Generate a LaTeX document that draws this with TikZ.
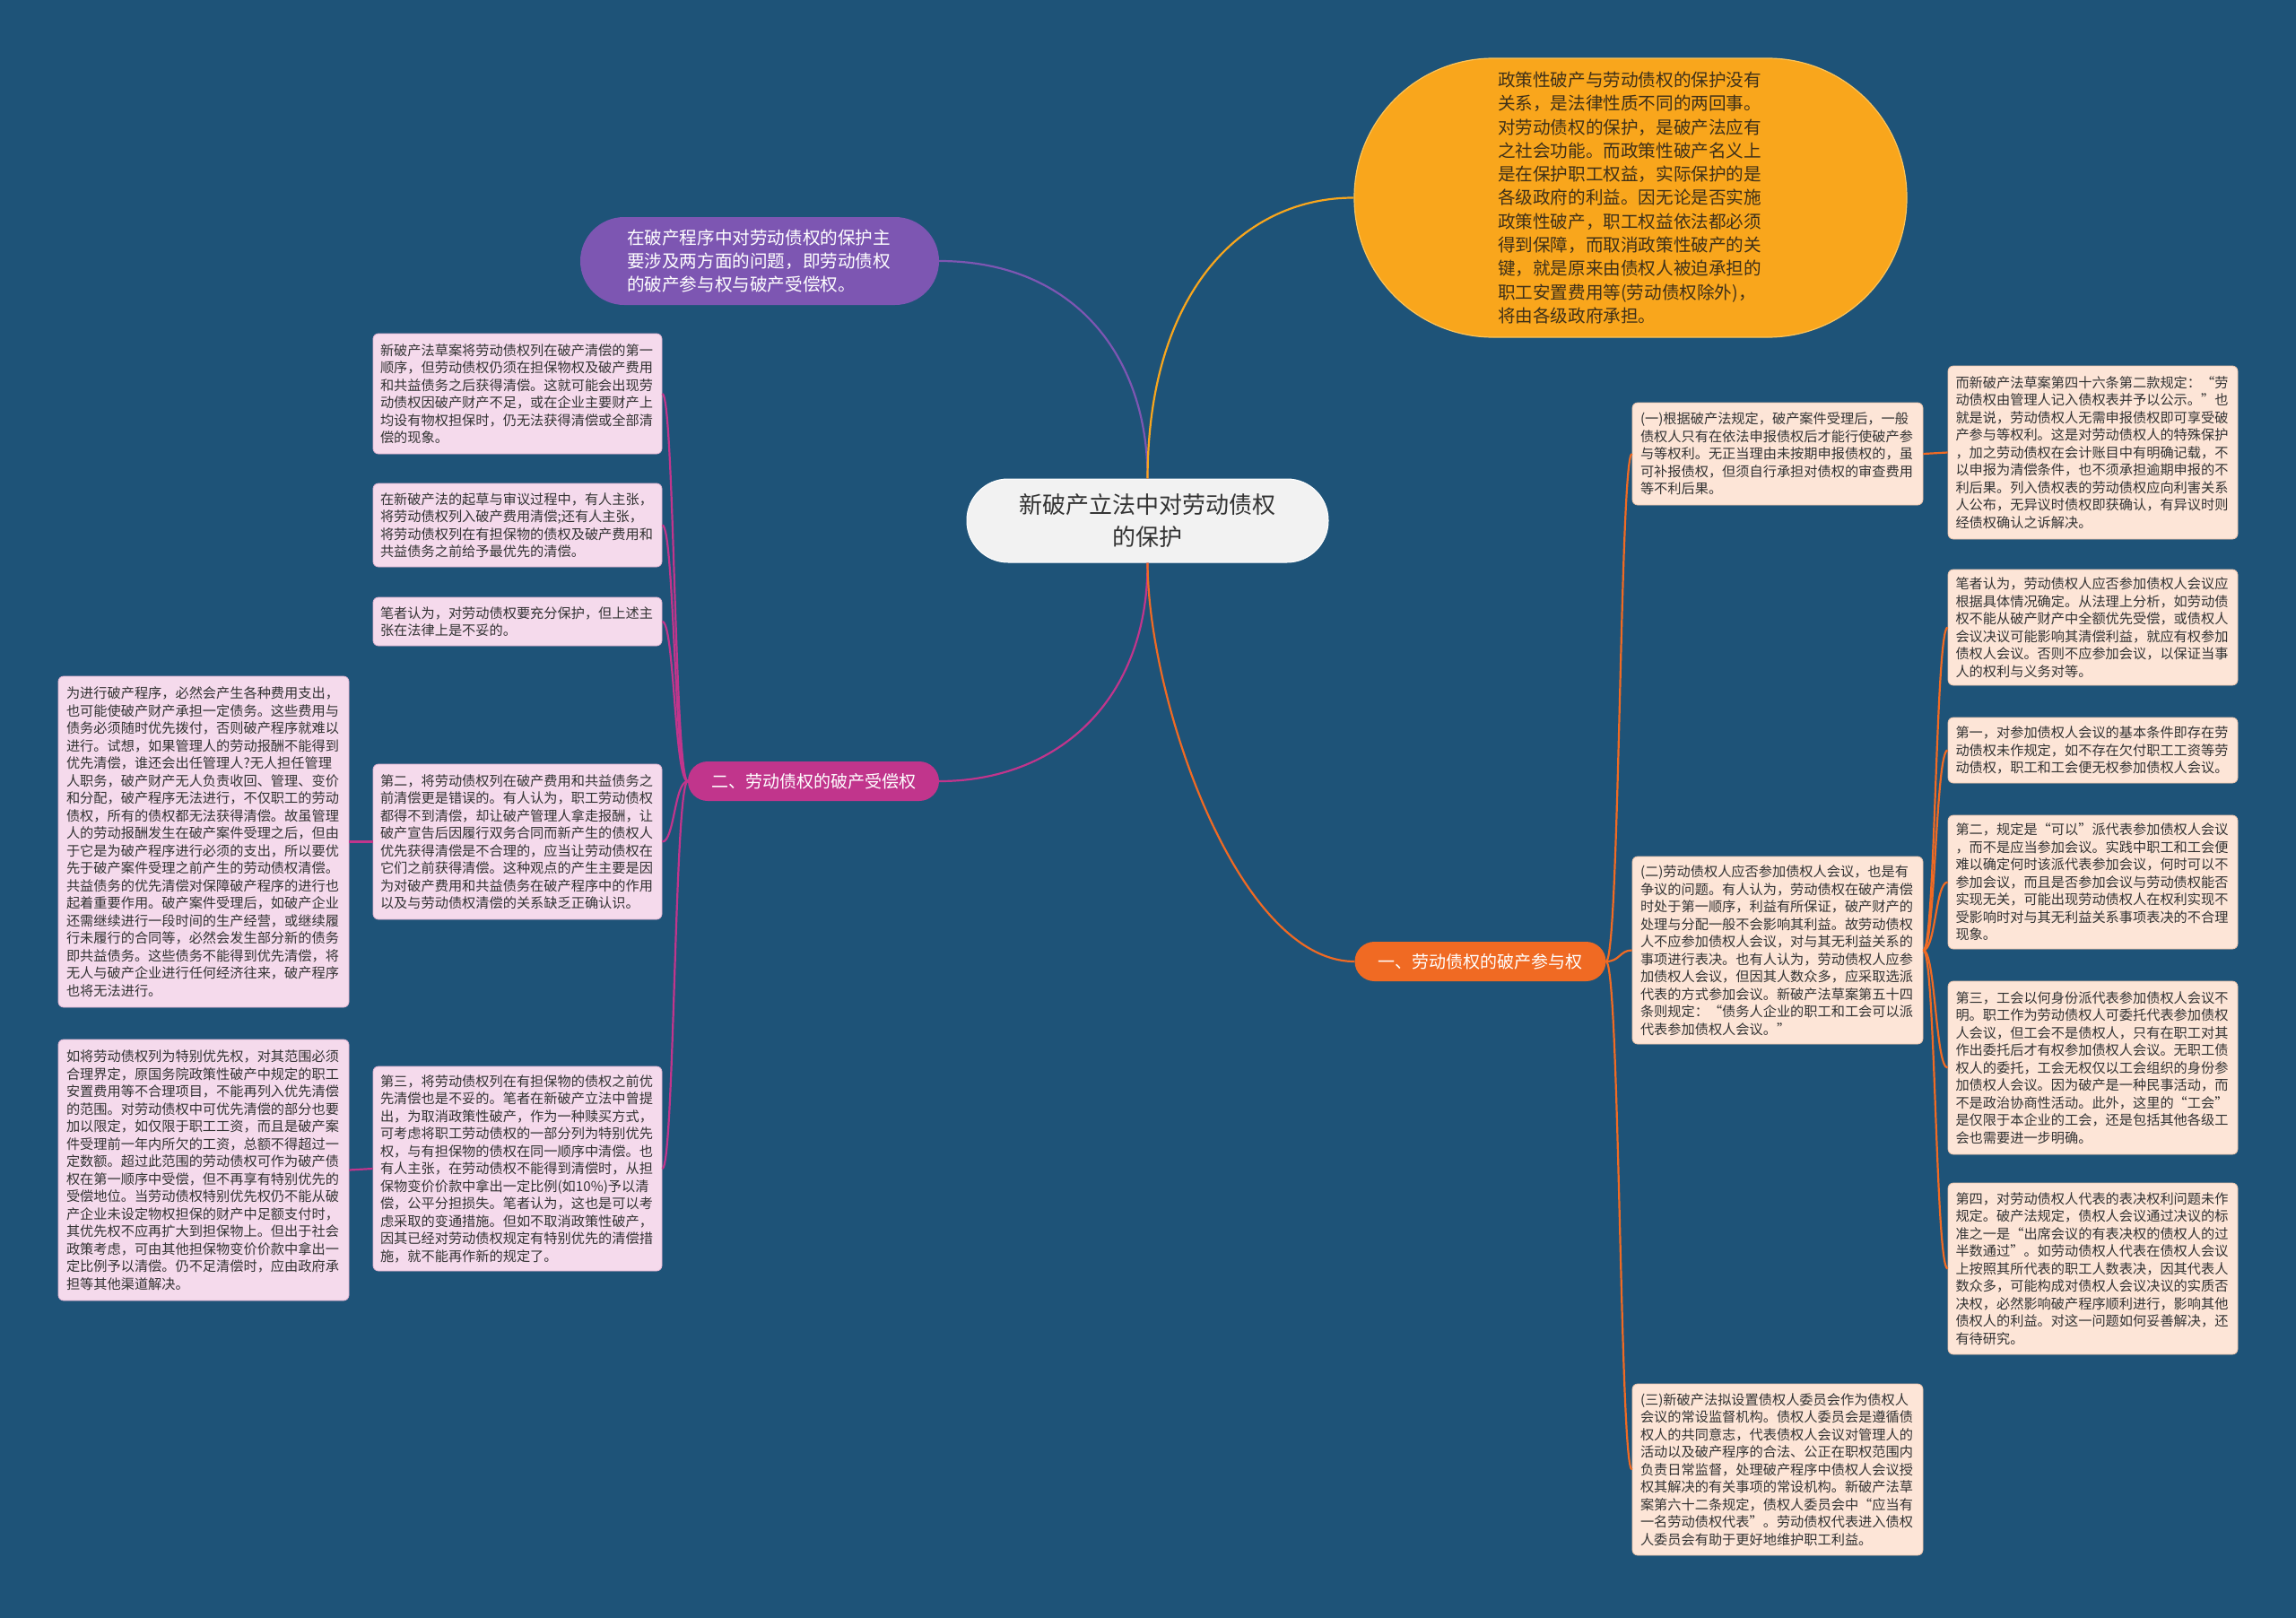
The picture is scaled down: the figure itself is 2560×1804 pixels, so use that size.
\documentclass[tikz,border=0pt]{standalone}
\usepackage{fontspec}
\setmainfont{Noto Sans CJK SC}
\definecolor{bg}{RGB}{30,83,120}
\definecolor{topor}{RGB}{249,166,28}
\definecolor{toporedge}{RGB}{252,196,90}
\definecolor{purp}{RGB}{125,86,178}
\definecolor{mag}{RGB}{193,53,140}
\definecolor{ored}{RGB}{240,106,35}
\definecolor{pinkbox}{RGB}{245,218,236}
\definecolor{pinkedge}{RGB}{226,180,210}
\definecolor{peachbox}{RGB}{253,229,215}
\definecolor{peachedge}{RGB}{236,196,172}
\definecolor{centfill}{RGB}{242,242,242}
\definecolor{txt}{RGB}{51,51,51}
\definecolor{toptxt}{RGB}{62,48,25}
\tikzset{
  leafbase/.style={line width=0.8pt, rounded corners=6pt, text=txt,
    font=\fontsize{15.2}{19.5}\selectfont, text width=306pt, inner xsep=8pt,
    inner ysep=0pt, align=left, minimum width=322pt},
  leafL/.style={leafbase, draw=pinkedge, fill=pinkbox},
  leafR/.style={leafbase, draw=peachedge, fill=peachbox},
  linkL/.style={draw=mag, line width=2.2pt},
  linkR/.style={draw=ored, line width=2.2pt},
  branch/.style={rounded corners=22pt, minimum height=44pt, minimum width=280pt,
    text=white, font=\fontsize{19}{24}\selectfont, inner sep=0pt, align=center}
}
\begin{document}
\begin{tikzpicture}[x=1pt,y=-1pt]
\fill[bg] (0,0) rectangle (2560,1804);

% central node
\node[fill=centfill, draw=white, line width=1pt, rounded corners=46pt, minimum width=403pt, minimum height=93pt,
  text=txt, font=\fontsize{26}{36}\selectfont, align=center, inner sep=0pt] (C) at (1279.5,580.5)
  {新破产立法中对劳动债权\\的保护};

% top orange
\node[fill=topor, draw=toporedge, line width=1.2pt, rounded corners=155pt, minimum width=616pt, minimum height=311pt,
  text=toptxt, font=\fontsize{19.6}{26.3}\selectfont, text width=296pt, align=left, inner sep=0pt] (O) at (1818,220.5)
  {政策性破产与劳动债权的保护没有\\关系，是法律性质不同的两回事。\\对劳动债权的保护，是破产法应有\\之社会功能。而政策性破产名义上\\是在保护职工权益，实际保护的是\\各级政府的利益。因无论是否实施\\政策性破产，职工权益依法都必须\\得到保障，而取消政策性破产的关\\键，就是原来由债权人被迫承担的\\职工安置费用等(劳动债权除外)，\\将由各级政府承担。};

% purple
\node[fill=purp, rounded corners=49pt, minimum width=400pt, minimum height=98pt,
  text=white, font=\fontsize{19.6}{26}\selectfont, text width=296pt, align=left, inner sep=0pt] (P) at (847,291)
  {在破产程序中对劳动债权的保护主\\要涉及两方面的问题，即劳动债权\\的破产参与权与破产受偿权。};

% branch nodes
\node[branch, fill=mag] (B2) at (907,871) {二、劳动债权的破产受偿权};
\node[branch, fill=ored] (B1) at (1650.5,1072) {一、劳动债权的破产参与权};

% left leaves
\node[leafL, minimum height=134pt] (L1) at (577,439)
  {新破产法草案将劳动债权列在破产清偿的第一\\顺序，但劳动债权仍须在担保物权及破产费用\\和共益债务之后获得清偿。这就可能会出现劳\\动债权因破产财产不足，或在企业主要财产上\\均设有物权担保时，仍无法获得清偿或全部清\\偿的现象。};
\node[leafL, minimum height=93pt] (L2) at (577,585.5)
  {在新破产法的起草与审议过程中，有人主张，\\将劳动债权列入破产费用清偿;还有人主张，\\将劳动债权列在有担保物的债权及破产费用和\\共益债务之前给予最优先的清偿。};
\node[leafL, minimum height=54pt] (L3) at (577,693)
  {笔者认为，对劳动债权要充分保护，但上述主\\张在法律上是不妥的。};
\node[leafL, minimum height=173pt] (L4) at (577,938.5)
  {第二，将劳动债权列在破产费用和共益债务之\\前清偿更是错误的。有人认为，职工劳动债权\\都得不到清偿，却让破产管理人拿走报酬，让\\破产宣告后因履行双务合同而新产生的债权人\\优先获得清偿是不合理的，应当让劳动债权在\\它们之前获得清偿。这种观点的产生主要是因\\为对破产费用和共益债务在破产程序中的作用\\以及与劳动债权清偿的关系缺乏正确认识。};
\node[leafL, minimum height=228pt] (L5) at (577,1303)
  {第三，将劳动债权列在有担保物的债权之前优\\先清偿也是不妥的。笔者在新破产立法中曾提\\出，为取消政策性破产，作为一种赎买方式，\\可考虑将职工劳动债权的一部分列为特别优先\\权，与有担保物的债权在同一顺序中清偿。也\\有人主张，在劳动债权不能得到清偿时，从担\\保物变价价款中拿出一定比例(如10\%)予以清\\偿，公平分担损失。笔者认为，这也是可以考\\虑采取的变通措施。但如不取消政策性破产，\\因其已经对劳动债权规定有特别优先的清偿措\\施，就不能再作新的规定了。};
\node[leafL, minimum height=369pt, minimum width=324pt] (LL1) at (227,938.5)
  {为进行破产程序，必然会产生各种费用支出，\\也可能使破产财产承担一定债务。这些费用与\\债务必须随时优先拨付，否则破产程序就难以\\进行。试想，如果管理人的劳动报酬不能得到\\优先清偿，谁还会出任管理人?无人担任管理\\人职务，破产财产无人负责收回、管理、变价\\和分配，破产程序无法进行，不仅职工的劳动\\债权，所有的债权都无法获得清偿。故虽管理\\人的劳动报酬发生在破产案件受理之后，但由\\于它是为破产程序进行必须的支出，所以要优\\先于破产案件受理之前产生的劳动债权清偿。\\共益债务的优先清偿对保障破产程序的进行也\\起着重要作用。破产案件受理后，如破产企业\\还需继续进行一段时间的生产经营，或继续履\\行未履行的合同等，必然会发生部分新的债务\\即共益债务。这些债务不能得到优先清偿，将\\无人与破产企业进行任何经济往来，破产程序\\也将无法进行。};
\node[leafL, minimum height=291pt, minimum width=324pt] (LL2) at (227,1304.5)
  {如将劳动债权列为特别优先权，对其范围必须\\合理界定，原国务院政策性破产中规定的职工\\安置费用等不合理项目，不能再列入优先清偿\\的范围。对劳动债权中可优先清偿的部分也要\\加以限定，如仅限于职工工资，而且是破产案\\件受理前一年内所欠的工资，总额不得超过一\\定数额。超过此范围的劳动债权可作为破产债\\权在第一顺序中受偿，但不再享有特别优先的\\受偿地位。当劳动债权特别优先权仍不能从破\\产企业未设定物权担保的财产中足额支付时，\\其优先权不应再扩大到担保物上。但出于社会\\政策考虑，可由其他担保物变价价款中拿出一\\定比例予以清偿。仍不足清偿时，应由政府承\\担等其他渠道解决。};

% right leaves
\node[leafR, minimum height=114pt, minimum width=324pt] (R1) at (1982,506)
  {(一)根据破产法规定，破产案件受理后，一般\\债权人只有在依法申报债权后才能行使破产参\\与等权利。无正当理由未按期申报债权的，虽\\可补报债权，但须自行承担对债权的审查费用\\等不利后果。};
\node[leafR, minimum height=209pt, minimum width=324pt] (R2) at (1982,1059.5)
  {(二)劳动债权人应否参加债权人会议，也是有\\争议的问题。有人认为，劳动债权在破产清偿\\时处于第一顺序，利益有所保证，破产财产的\\处理与分配一般不会影响其利益。故劳动债权\\人不应参加债权人会议，对与其无利益关系的\\事项进行表决。也有人认为，劳动债权人应参\\加债权人会议，但因其人数众多，应采取选派\\代表的方式参加会议。新破产法草案第五十四\\条则规定：“债务人企业的职工和工会可以派\\代表参加债权人会议。”};
\node[leafR, minimum height=191pt, minimum width=324pt] (R3) at (1982,1638.5)
  {(三)新破产法拟设置债权人委员会作为债权人\\会议的常设监督机构。债权人委员会是遵循债\\权人的共同意志，代表债权人会议对管理人的\\活动以及破产程序的合法、公正在职权范围内\\负责日常监督，处理破产程序中债权人会议授\\权其解决的有关事项的常设机构。新破产法草\\案第六十二条规定，债权人委员会中“应当有\\一名劳动债权代表”。劳动债权代表进入债权\\人委员会有助于更好地维护职工利益。};

\node[leafR, minimum height=193pt, minimum width=323pt] (RR1) at (2333.5,504.5)
  {而新破产法草案第四十六条第二款规定：“劳\\动债权由管理人记入债权表并予以公示。”也\\就是说，劳动债权人无需申报债权即可享受破\\产参与等权利。这是对劳动债权人的特殊保护\\，加之劳动债权在会计账目中有明确记载，不\\以申报为清偿条件，也不须承担逾期申报的不\\利后果。列入债权表的劳动债权应向利害关系\\人公布，无异议时债权即获确认，有异议时则\\经债权确认之诉解决。};
\node[leafR, minimum height=129pt, minimum width=323pt] (RR2) at (2333.5,699.5)
  {笔者认为，劳动债权人应否参加债权人会议应\\根据具体情况确定。从法理上分析，如劳动债\\权不能从破产财产中全额优先受偿，或债权人\\会议决议可能影响其清偿利益，就应有权参加\\债权人会议。否则不应参加会议，以保证当事\\人的权利与义务对等。};
\node[leafR, minimum height=73pt, minimum width=323pt] (RR3) at (2333.5,836.5)
  {第一，对参加债权人会议的基本条件即存在劳\\动债权未作规定，如不存在欠付职工工资等劳\\动债权，职工和工会便无权参加债权人会议。};
\node[leafR, minimum height=149pt, minimum width=323pt] (RR4) at (2333.5,983.5)
  {第二，规定是“可以”派代表参加债权人会议\\，而不是应当参加会议。实践中职工和工会便\\难以确定何时该派代表参加会议，何时可以不\\参加会议，而且是否参加会议与劳动债权能否\\实现无关，可能出现劳动债权人在权利实现不\\受影响时对与其无利益关系事项表决的不合理\\现象。};
\node[leafR, minimum height=193pt, minimum width=323pt] (RR5) at (2333.5,1190.5)
  {第三，工会以何身份派代表参加债权人会议不\\明。职工作为劳动债权人可委托代表参加债权\\人会议，但工会不是债权人，只有在职工对其\\作出委托后才有权参加债权人会议。无职工债\\权人的委托，工会无权仅以工会组织的身份参\\加债权人会议。因为破产是一种民事活动，而\\不是政治协商性活动。此外，这里的“工会”\\是仅限于本企业的工会，还是包括其他各级工\\会也需要进一步明确。};
\node[leafR, minimum height=191pt, minimum width=323pt] (RR6) at (2333.5,1414.5)
  {第四，对劳动债权人代表的表决权利问题未作\\规定。破产法规定，债权人会议通过决议的标\\准之一是“出席会议的有表决权的债权人的过\\半数通过”。如劳动债权人代表在债权人会议\\上按照其所代表的职工人数表决，因其代表人\\数众多，可能构成对债权人会议决议的实质否\\决权，必然影响破产程序顺利进行，影响其他\\债权人的利益。对这一问题如何妥善解决，还\\有待研究。};

% connectors from center
\draw[draw=purp, line width=2.2pt] (P.east) .. controls (1200,291) and (1280,400) .. (C.north);
\draw[draw=topor, line width=2.2pt] (C.north) .. controls (1280,320) and (1390,220) .. (O.west);
\draw[linkL] (C.south) .. controls (1280,780) and (1180,871) .. (B2.east);
\draw[linkR] (C.south) .. controls (1280,780) and (1380,1072) .. (B1.west);

% left leaf connectors
\draw[linkL] (B2.west) .. controls (752,871) and (752,439) .. (L1.east);
\draw[linkL] (B2.west) .. controls (752,871) and (752,585.5) .. (L2.east);
\draw[linkL] (B2.west) .. controls (752,871) and (752,693) .. (L3.east);
\draw[linkL] (B2.west) .. controls (752,871) and (752,938.5) .. (L4.east);
\draw[linkL] (B2.west) .. controls (752,871) and (752,1303) .. (L5.east);
\draw[linkL] (L4.west) -- (LL1.east);
\draw[linkL] (L5.west) -- (LL2.east);

% right leaf connectors
\draw[linkR] (B1.east) .. controls (1806,1072) and (1806,506) .. (R1.west);
\draw[linkR] (B1.east) .. controls (1806,1072) and (1806,1059.5) .. (R2.west);
\draw[linkR] (B1.east) .. controls (1806,1072) and (1806,1638.5) .. (R3.west);
\draw[linkR] (R1.east) -- (RR1.west);
\draw[linkR] (R2.east) .. controls (2158,1059.5) and (2158,699.5) .. (RR2.west);
\draw[linkR] (R2.east) .. controls (2158,1059.5) and (2158,836.5) .. (RR3.west);
\draw[linkR] (R2.east) .. controls (2158,1059.5) and (2158,983.5) .. (RR4.west);
\draw[linkR] (R2.east) .. controls (2158,1059.5) and (2158,1190.5) .. (RR5.west);
\draw[linkR] (R2.east) .. controls (2158,1059.5) and (2158,1414.5) .. (RR6.west);
\end{tikzpicture}
\end{document}
